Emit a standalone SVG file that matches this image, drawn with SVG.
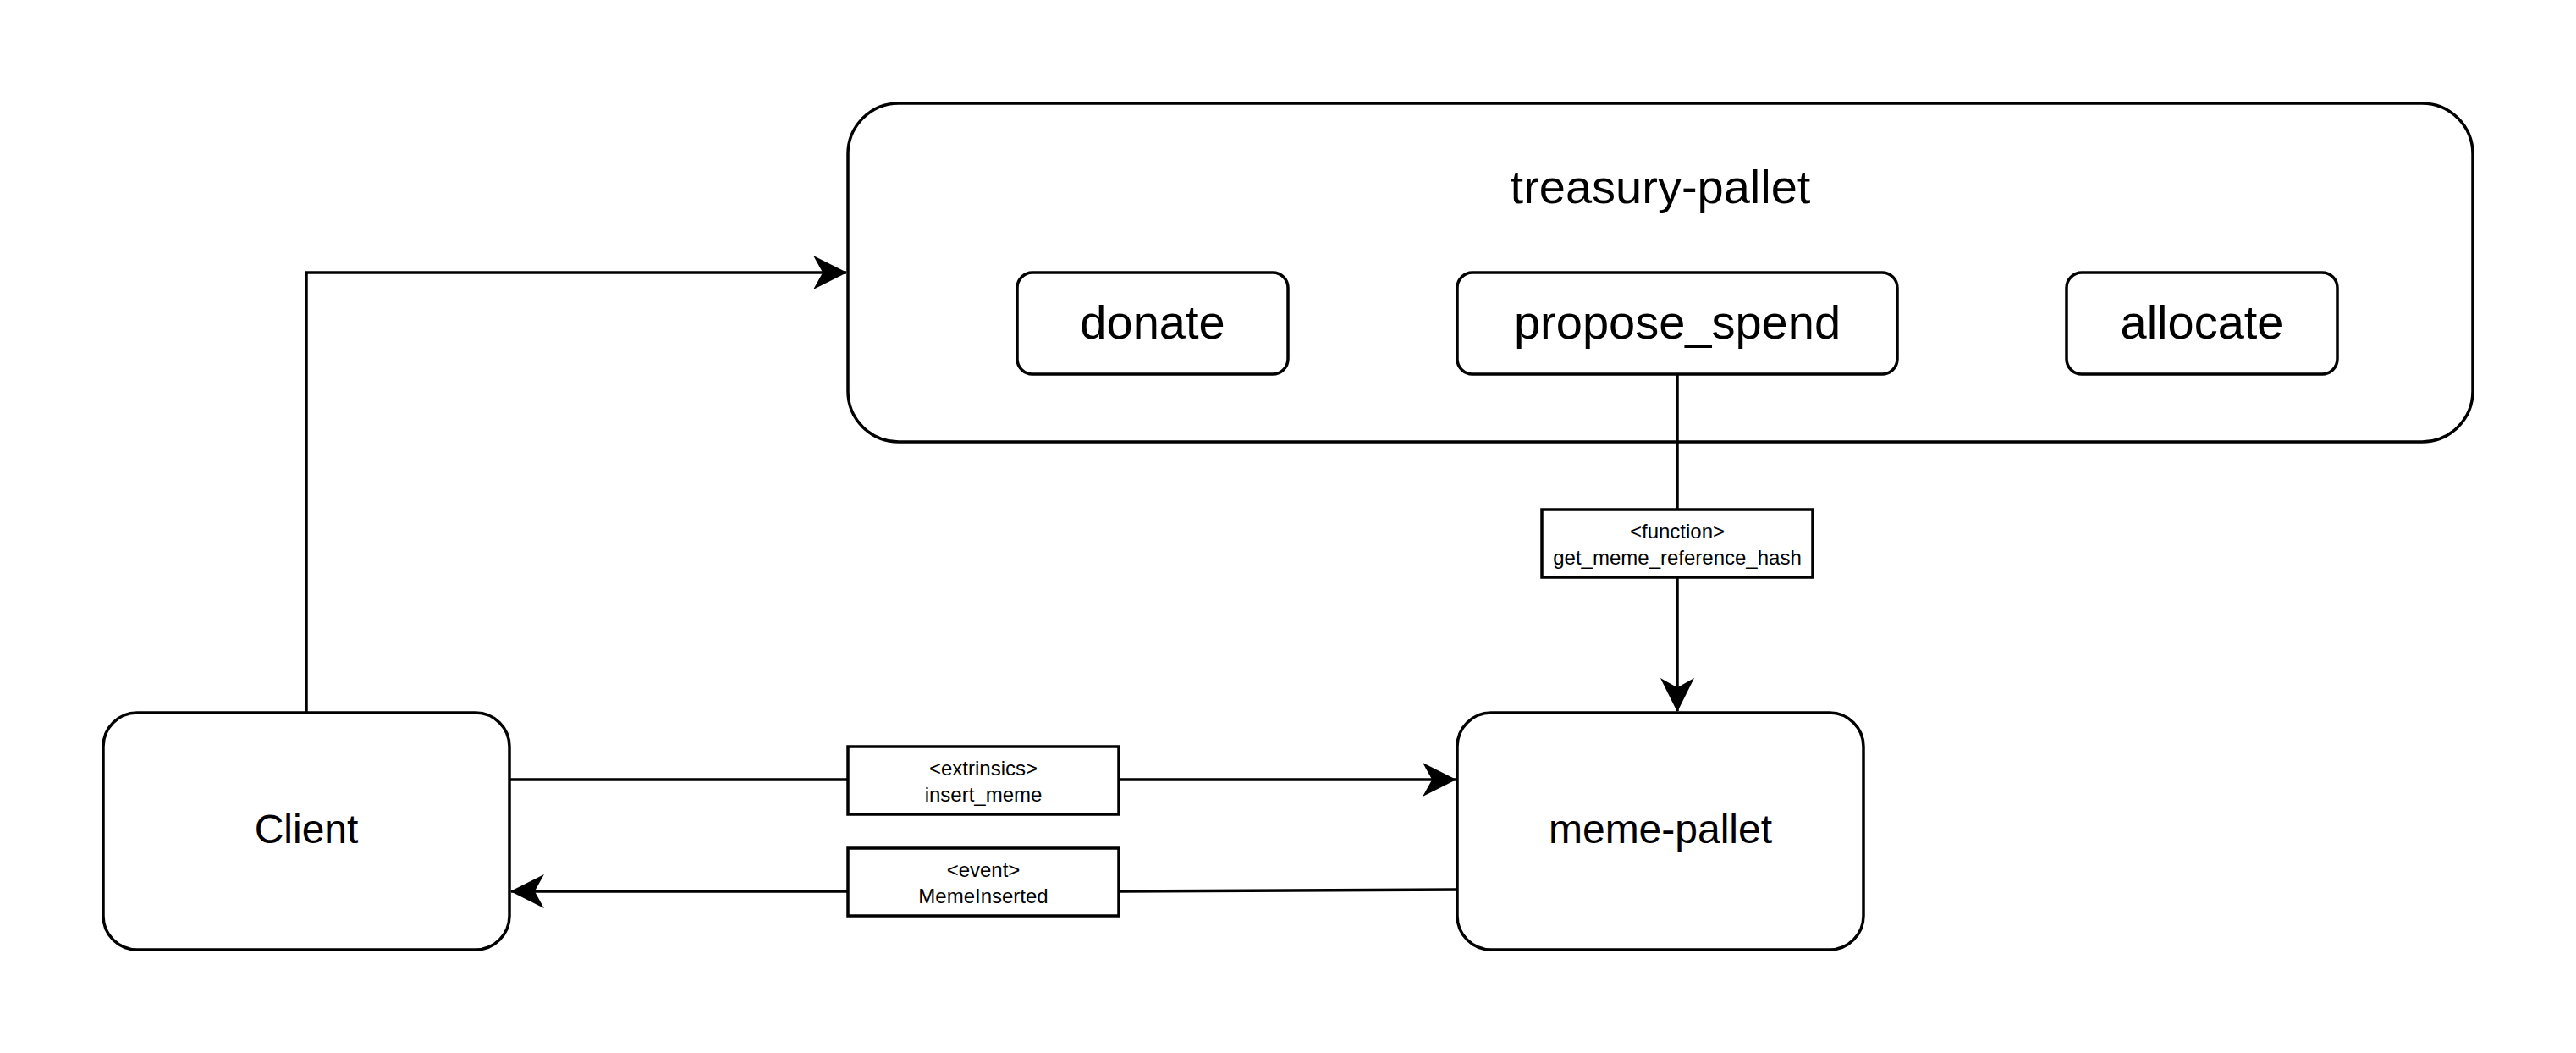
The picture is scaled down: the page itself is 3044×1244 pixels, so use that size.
<svg xmlns="http://www.w3.org/2000/svg" width="3044" height="1244" viewBox="0 0 3044 1244">
  <style>
    .box { fill: #ffffff; stroke: #000000; stroke-width: 3.5; }
    .lbl { fill: #ffffff; stroke: #000000; stroke-width: 3.5; }
    .edge { fill: none; stroke: #000000; stroke-width: 3.5; }
    text { font-family: "Liberation Sans", Arial, Helvetica, sans-serif; fill: #000000; text-anchor: middle; }
    .big { font-size: 56px; }
    .mid { font-size: 48px; }
    .small { font-size: 24px; }
  </style>
  <defs>
    <marker id="arrow" markerUnits="userSpaceOnUse" markerWidth="40" markerHeight="40" viewBox="0 0 36 36" refX="35" refY="18" orient="auto">
      <path d="M0,0 L36,18 L0,36 L10,18 Z" fill="#000000"/>
    </marker>
  </defs>
  <rect width="3044" height="1244" fill="#ffffff"/>

  <g id="treasury-pallet">
    <rect class="box" x="1002" y="122" width="1920" height="400" rx="60" ry="60"/>
    <text class="big" x="1962" y="240">treasury-pallet</text>
  </g>
  <g id="donate">
    <rect class="box" x="1202" y="322" width="320" height="120" rx="18" ry="18"/>
    <text class="big" x="1362" y="400">donate</text>
  </g>
  <g id="propose_spend">
    <rect class="box" x="1722" y="322" width="520" height="120" rx="18" ry="18"/>
    <text class="big" x="1982" y="400">propose_spend</text>
  </g>
  <g id="allocate">
    <rect class="box" x="2442" y="322" width="320" height="120" rx="18" ry="18"/>
    <text class="big" x="2602" y="400">allocate</text>
  </g>
  <g id="client">
    <rect class="box" x="122" y="842" width="480" height="280" rx="40" ry="40"/>
    <text class="mid" x="362" y="996">Client</text>
  </g>
  <g id="meme-pallet">
    <rect class="box" x="1722" y="842" width="480" height="280" rx="40" ry="40"/>
    <text class="mid" x="1962" y="996">meme-pallet</text>
  </g>

  <g id="connectors">
    <path class="edge" d="M362,842 L362,322 L1000,322" marker-end="url(#arrow)"/>
    <path class="edge" d="M1982,442 L1982,840" marker-end="url(#arrow)"/>
    <path class="edge" d="M602,921 L1720,921" marker-end="url(#arrow)"/>
    <path class="edge" d="M1722,1051 L1322,1053 L604,1053" marker-end="url(#arrow)"/>
    <g id="label-function">
      <rect class="lbl" x="1822" y="602" width="320" height="80"/>
      <text class="small" x="1982" y="636">&lt;function&gt;</text>
      <text class="small" x="1982" y="667">get_meme_reference_hash</text>
    </g>
    <g id="label-extrinsics">
      <rect class="lbl" x="1002" y="882" width="320" height="80"/>
      <text class="small" x="1162" y="916">&lt;extrinsics&gt;</text>
      <text class="small" x="1162" y="947">insert_meme</text>
    </g>
    <g id="label-event">
      <rect class="lbl" x="1002" y="1002" width="320" height="80"/>
      <text class="small" x="1162" y="1036">&lt;event&gt;</text>
      <text class="small" x="1162" y="1067">MemeInserted</text>
    </g>
  </g>
</svg>
